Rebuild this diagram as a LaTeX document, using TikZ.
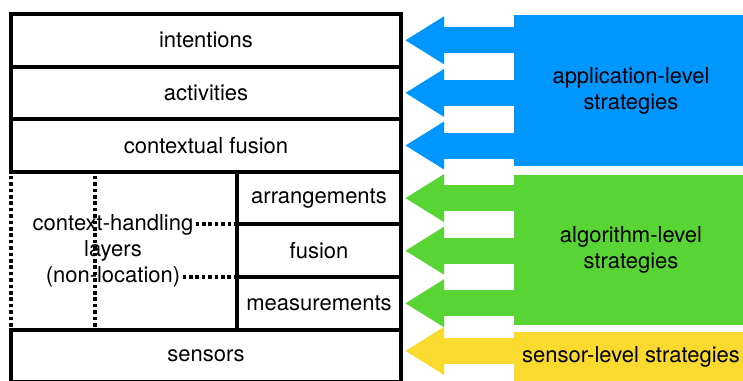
\documentclass[tikz,border=0pt]{standalone}
\usepackage{fontspec}
\setmainfont{TeX Gyre Heros}
\usetikzlibrary{positioning,arrows.meta}
\definecolor{appblue}{RGB}{0,150,255}
\definecolor{alggreen}{RGB}{88,212,52}
\definecolor{senyellow}{RGB}{250,218,46}

\begin{document}
\begin{tikzpicture}[x=0.5pt,y=-0.5pt,font=\fontsize{11}{13}\selectfont,
  layer/.style={draw,line width=2pt,minimum width=195pt,minimum height=26.3pt,outer sep=0pt,inner sep=0pt},
  sublayer/.style={layer,minimum width=82pt},
  strategy/.style={anchor=north west,minimum width=117pt,inner sep=0pt,outer sep=0pt,align=center},
  dots/.style={line width=2pt,dash pattern=on 1.8pt off 1.4pt},
  push/.style={line width=13pt,shorten >=2pt,-{Triangle[length=19.5pt,width=22.5pt]}}]
  \useasboundingbox (0,0) rectangle (743,380);

  % layers
  \node [layer] (0) at (206,40.3) {intentions};
  \node [layer,below=0pt of 0] (1) {activities};
  \node [layer,below=0pt of 1] (2) {contextual fusion};
  \node [sublayer,below left=0pt and 0pt of 2.south east] (3) {arrangements};
  \node [sublayer,below=0pt of 3] (4) {fusion};
  \node [sublayer,below=0pt of 4] (5) {measurements};
  \node [layer,below left=0pt and 0pt of 5.south east] (6) {sensors};

  % context-handling part
  \draw [dots] ([yshift=-2pt]2.south west) -- (6.north west);
  \draw [dots] ([xshift=42pt,yshift=-2pt]2.south west) -- ([xshift=42pt]6.north west);
  \node (7) at (113,250.7) {layers};
  \node [inner sep=1pt] (8) at (7 |- 3.south) {context-handling};
  \node [inner sep=1pt] (9) at (7 |- 4.south) {(non-location)};
  \draw [dots] (8.east) -- (8.east -| 3.west);
  \draw [dots] (9.east) -- (9.east -| 4.west);

  % strategies
  \node [strategy,fill=appblue,minimum height=75.5pt] (a) at (514,15) {application-level\\strategies};
  \node [strategy,fill=alggreen,minimum height=75pt] (b) at (514,175) {algorithm-level\\strategies};
  \node [strategy,fill=senyellow,minimum height=24.5pt] (c) at (514,332) {sensor-level strategies};

  \foreach \lay/\str/\col in {0/a/appblue,1/a/appblue,2/a/appblue,3/b/alggreen,4/b/alggreen,5/b/alggreen}
    \draw [push,\col] ([xshift=1pt]\str.west |- \lay) -- (\lay.east);
  \draw [push,senyellow] ([xshift=1pt,yshift=2.5pt]c.west |- 6) -- ([yshift=2.5pt]6.east);

\end{tikzpicture}
\end{document}
